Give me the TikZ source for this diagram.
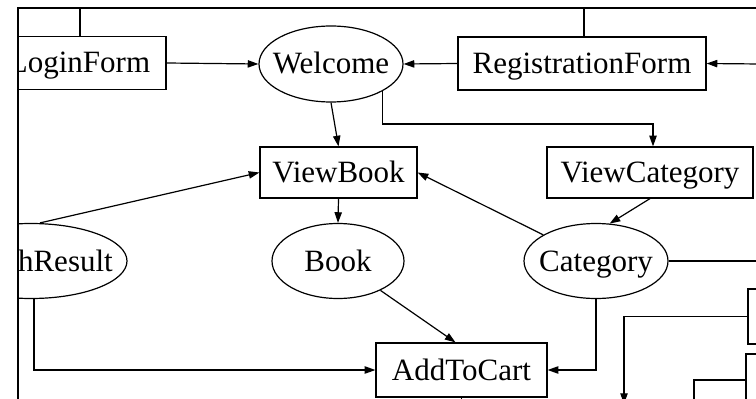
\documentclass[tikz,border=0pt]{standalone}
\usepackage{fontspec}
\setmainfont{Liberation Serif}
\usetikzlibrary{shapes.geometric,arrows.meta}
\begin{document}
\begin{tikzpicture}[x=0.75pt,y=-0.75pt,
  lw/.style={line width=0.9pt},
  state/.style={lw, draw, inner sep=0pt, text height=17pt, text depth=2pt,
    font=\fontsize{23.25}{26}\selectfont},
  box/.style={state, rectangle},
  oval/.style={state, ellipse},
  link/.style={lw},
  arr/.style={lw, -{Triangle[length=8pt,width=5.5pt]}}]

\useasboundingbox (0,0) rectangle (756,399);
\fill[white] (0,0) rectangle (756,399);

\begin{scope}
\clip (18,8) rectangle (756,399);

% screens and entities
\node[box, minimum width=129.75pt, minimum height=39.75pt] (login) at (79.5,63) {LoginForm};
\node[box, minimum width=186pt, minimum height=39.75pt] (reg) at (582,63.5) {RegistrationForm};
\node[oval, minimum width=108pt, minimum height=57pt] (welcome) at (331,64) {\makebox[0pt]{Welcome}};
\node[box, minimum width=117.75pt, minimum height=38.25pt] (viewbook) at (338.5,172.5) {ViewBook};
\node[box, minimum width=154.5pt, minimum height=38.25pt] (viewcat) at (650,172.5) {ViewCategory};
\node[oval, minimum width=144pt, minimum height=56.25pt] (searchres) at (31,261) {\makebox[0pt]{SearchResult}};
\node[oval, minimum width=99pt, minimum height=56.25pt] (book) at (338,261) {\makebox[0pt]{Book}};
\node[oval, minimum width=108pt, minimum height=56.25pt] (category) at (596,261) {\makebox[0pt]{Category}};
\node[box, minimum width=128.25pt, minimum height=40.5pt] (addtocart) at (461.5,370) {AddToCart};
\node[box, minimum width=39pt, minimum height=41.25pt] (box1) at (774,316.5) {};
\node[box, minimum width=40.5pt, minimum height=39pt] (box2) at (773,380) {};

% free ends of connectors leaving the view
\coordinate (top1) at (80,8);
\coordinate (top2) at (584,8);
\coordinate (redge1) at (760,64);
\coordinate (redge2) at (760,261);
\coordinate (bend) at (653,124);
\coordinate (drop1) at (624,404);
\coordinate (drop2) at (694,410);
\coordinate (drop3) at (461.5,410);

% connectors
\draw[link] (top1) -- (top1 |- login.north);
\draw[link] (top2) -- (top2 |- reg.north);
\draw[arr] (login.east) -- (welcome.west);
\draw[arr] (reg.west) -- (welcome.east);
\draw[arr] (redge1) -- (reg.east);
\draw[arr] (welcome.south) -- (viewbook.north);
\draw[arr] (welcome.south east) |- (bend) -- (bend |- viewcat.north);
\draw[arr] (viewcat.south) -- (category.70);
\draw[arr] (category) -- (viewbook.east);
\draw[link] (category.east) -- (redge2);
\draw[arr] (category.south) |- (addtocart.east);
\draw[arr] (viewbook.south) -- (book.north);
\draw[arr] (book) -- ([xshift=-4.5pt]addtocart.north);
\draw[arr] ([xshift=6.75pt]searchres.north) -- (viewbook.west);
\draw[arr] ([xshift=2.25pt]searchres.south) |- (addtocart.west);
\draw[link] (addtocart.south) -- (drop3);
\draw[arr] (box1.west) -| (drop1);
\draw[link] (box2.west) -| (drop2);
\end{scope}

% frame of the view
\draw[lw] (756,8) -- (18,8) -- (18,399);
\end{tikzpicture}
\end{document}
